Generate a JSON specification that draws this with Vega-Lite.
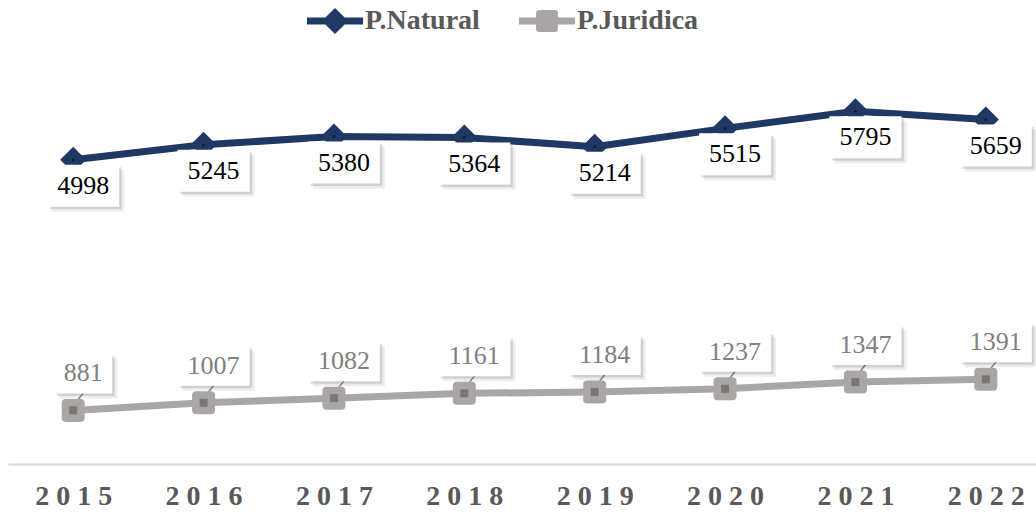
{
  "$schema": "https://vega.github.io/schema/vega-lite/v6.json",
  "width": 1028,
  "height": 426,
  "autosize": "none",
  "padding": {"left": 8, "top": 38, "right": 0, "bottom": 48},
  "background": "white",
  "config": {"view": {"stroke": null}},
  "data": {"values": [
    {"year": "2015", "series": "P.Natural", "value": 4998},
    {"year": "2016", "series": "P.Natural", "value": 5245},
    {"year": "2017", "series": "P.Natural", "value": 5380},
    {"year": "2018", "series": "P.Natural", "value": 5364},
    {"year": "2019", "series": "P.Natural", "value": 5214},
    {"year": "2020", "series": "P.Natural", "value": 5515},
    {"year": "2021", "series": "P.Natural", "value": 5795},
    {"year": "2022", "series": "P.Natural", "value": 5659},
    {"year": "2015", "series": "P.Juridica", "value": 881},
    {"year": "2016", "series": "P.Juridica", "value": 1007},
    {"year": "2017", "series": "P.Juridica", "value": 1082},
    {"year": "2018", "series": "P.Juridica", "value": 1161},
    {"year": "2019", "series": "P.Juridica", "value": 1184},
    {"year": "2020", "series": "P.Juridica", "value": 1237},
    {"year": "2021", "series": "P.Juridica", "value": 1347},
    {"year": "2022", "series": "P.Juridica", "value": 1391}
  ]},
  "encoding": {
    "x": {
      "field": "year", "type": "ordinal",
      "scale": {"type": "point", "range": [0, 1043], "padding": 0.5},
      "axis": {
        "title": null, "domainColor": "#d9d9d9", "domainWidth": 2, "ticks": false, "grid": false,
        "labelFont": "Liberation Serif", "labelFontSize": 28, "labelFontWeight": "bold",
        "labelColor": "#595959", "labelPadding": 18, "labelAngle": 0,
        "labelExpr": "join(split(datum.label,''),' ')"
      }
    },
    "y": {"field": "value", "type": "quantitative", "scale": {"domain": [0, 7000]}, "axis": null}
  },
  "layer": [
    {
      "mark": {"type": "line", "strokeWidth": 7, "strokeCap": "round", "strokeJoin": "round"},
      "encoding": {
        "color": {
          "field": "series", "type": "nominal",
          "scale": {"domain": ["P.Natural", "P.Juridica"], "range": ["#203864", "#aaa6a6"]},
          "legend": {
            "orient": "none", "legendX": 312, "legendY": -32, "direction": "horizontal",
            "title": null, "symbolSize": 900, "padding": 0,
            "labelFont": "Liberation Serif", "labelFontSize": 28, "labelFontWeight": "bold",
            "labelColor": "#595959", "labelOffset": 15, "columnPadding": 38,
            "symbolStrokeWidth": 0, "symbolOpacity": 1,
            "encode": {"symbols": {"update": {
              "shape": {"signal": "datum.value === 'P.Natural' ? 'M-1.87,-0.23H-0.64L0,-0.87L0.64,-0.23H1.87V0.23H0.64L0,0.87L-0.64,0.23H-1.87Z' : 'M-1.87,-0.23H-0.73V-0.53Q-0.73,-0.73,-0.53,-0.73H0.53Q0.73,-0.73,0.73,-0.53V-0.23H1.87V0.23H0.73V0.53Q0.73,0.73,0.53,0.73H-0.53Q-0.73,0.73,-0.73,0.53V0.23H-1.87Z'"},
              "fill": {"signal": "datum.value === 'P.Natural' ? '#203864' : '#aaa6a6'"},
              "stroke": {"value": "transparent"},
              "opacity": {"value": 1},
              "fillOpacity": {"value": 1}
            }}}
          }
        }
      }
    },
    {
      "transform": [{"filter": "datum.series === 'P.Natural'"}],
      "mark": {"type": "point", "shape": "diamond", "filled": true, "size": 680, "color": "#203864", "opacity": 1, "strokeWidth": 0}
    },
    {
      "transform": [{"filter": "datum.series === 'P.Natural'"}],
      "mark": {"type": "point", "shape": "circle", "filled": true, "size": 8, "color": "#0d1a33", "opacity": 1, "strokeWidth": 0}
    },
    {
      "transform": [{"filter": "datum.series === 'P.Natural'"}],
      "mark": {"type": "point", "shape": "M-0.42,0.2H1.02V1.04H-0.42Z", "filled": true, "size": 10000, "color": "#000000", "opacity": 0.07, "strokeWidth": 0}
    },
    {
      "transform": [{"filter": "datum.series === 'P.Natural'"}],
      "mark": {"type": "point", "shape": "M-0.47,0.15H0.97V0.99H-0.47Z", "filled": true, "size": 10000, "color": "#000000", "opacity": 0.12, "strokeWidth": 0}
    },
    {
      "transform": [{"filter": "datum.series === 'P.Natural'"}],
      "mark": {"type": "point", "shape": "M-0.52,0.1H0.92V0.94H-0.52Z", "filled": true, "size": 10000, "color": "#ffffff", "opacity": 1, "strokeWidth": 0}
    },
    {
      "transform": [{"filter": "datum.series === 'P.Natural'"}],
      "mark": {"type": "text", "dx": 10, "dy": 26, "font": "Liberation Serif", "fontSize": 26, "color": "#000000", "baseline": "middle", "align": "center"},
      "encoding": {"text": {"field": "value", "type": "quantitative", "format": "d"}}
    },
    {
      "transform": [{"filter": "datum.series === 'P.Juridica'"}],
      "mark": {"type": "point", "shape": "M0.1,-0.22L0.26,-0.42", "filled": false, "size": 10000, "color": "#8c8c8c", "opacity": 1, "strokeWidth": 1.5}
    },
    {
      "transform": [{"filter": "datum.series === 'P.Juridica'"}],
      "mark": {"type": "point", "shape": "M-1,-0.65Q-1,-1,-0.65,-1H0.65Q1,-1,1,-0.65V0.65Q1,1,0.65,1H-0.65Q-1,1,-1,0.65Z", "filled": true, "size": 529, "color": "#aaa6a6", "opacity": 1, "strokeWidth": 0}
    },
    {
      "transform": [{"filter": "datum.series === 'P.Juridica'"}],
      "mark": {"type": "point", "shape": "square", "filled": true, "size": 64, "color": "#7a7676", "opacity": 1, "strokeWidth": 0}
    },
    {
      "transform": [{"filter": "datum.series === 'P.Juridica'"}],
      "mark": {"type": "point", "filled": true, "size": 10000, "color": "#000000", "opacity": 0.07, "strokeWidth": 0},
      "encoding": {"shape": {"condition": {"test": "datum.value < 1000", "value": "M-0.28,-1.04H0.88V-0.24H-0.28Z"}, "value": "M-0.42,-1.04H1.02V-0.24H-0.42Z"}}
    },
    {
      "transform": [{"filter": "datum.series === 'P.Juridica'"}],
      "mark": {"type": "point", "filled": true, "size": 10000, "color": "#000000", "opacity": 0.12, "strokeWidth": 0},
      "encoding": {"shape": {"condition": {"test": "datum.value < 1000", "value": "M-0.33,-1.09H0.83V-0.29H-0.33Z"}, "value": "M-0.47,-1.09H0.97V-0.29H-0.47Z"}}
    },
    {
      "transform": [{"filter": "datum.series === 'P.Juridica'"}],
      "mark": {"type": "point", "filled": true, "size": 10000, "color": "#ffffff", "opacity": 1, "strokeWidth": 0},
      "encoding": {"shape": {"condition": {"test": "datum.value < 1000", "value": "M-0.38,-1.14H0.78V-0.34H-0.38Z"}, "value": "M-0.52,-1.14H0.92V-0.34H-0.52Z"}}
    },
    {
      "transform": [{"filter": "datum.series === 'P.Juridica'"}],
      "mark": {"type": "text", "dx": 10, "dy": -37, "font": "Liberation Serif", "fontSize": 26, "color": "#808080", "baseline": "middle", "align": "center"},
      "encoding": {"text": {"field": "value", "type": "quantitative", "format": "d"}}
    }
  ]
}
